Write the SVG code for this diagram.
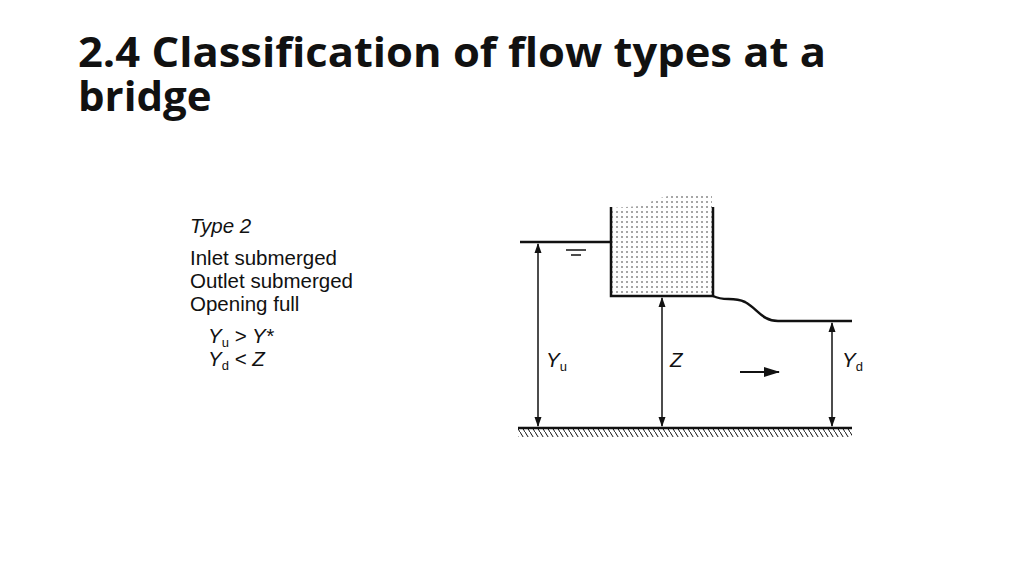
<svg xmlns="http://www.w3.org/2000/svg" width="1024" height="575" viewBox="0 0 1024 575">
<style>
.t{font-family:"Liberation Sans",Arial,sans-serif;font-size:20.5px;fill:#111}
.i{font-style:italic}
.s{font-style:normal;font-size:13px}
.ln{stroke:#111;stroke-width:2.5;fill:none}
.dim{stroke:#111;stroke-width:1.5;fill:none}
.h{font-family:'Open Sans','Noto Sans',sans-serif;font-weight:bold;font-size:42px;fill:#111}
</style>
<defs>
<pattern id="dots" width="5" height="5" patternUnits="userSpaceOnUse"><circle cx="2" cy="2" r="0.8" fill="#333"/></pattern>
<pattern id="hatch" width="5" height="8" patternUnits="userSpaceOnUse"><line x1="0" y1="0" x2="5" y2="8" stroke="#111" stroke-width="1"/></pattern>
<marker id="ah" markerWidth="10" markerHeight="10" refX="9" refY="5" orient="auto-start-reverse" markerUnits="userSpaceOnUse"><path d="M0,1.5 L10,5 L0,8.5 Z" fill="#111"/></marker>
<marker id="ah2" markerWidth="16" markerHeight="12" refX="15" refY="6" orient="auto" markerUnits="userSpaceOnUse"><path d="M0,1 L16,6 L0,11 Z" fill="#111"/></marker>
</defs>
<rect width="1024" height="575" fill="#fff"/>
<text class="h" x="78" y="67" textLength="748" lengthAdjust="spacingAndGlyphs">2.4 Classification of flow types at a</text>
<text class="h" x="78" y="111">bridge</text>
<g id="legend">
<text class="t i" x="190" y="233">Type 2</text>
<text class="t" x="190" y="265">Inlet submerged</text>
<text class="t" x="190" y="288">Outlet submerged</text>
<text class="t" x="190" y="311">Opening full</text>
<text class="t i" x="208" y="343">Y<tspan class="s" dy="4">u</tspan><tspan dy="-4"> &gt; Y*</tspan></text>
<text class="t i" x="208" y="366">Y<tspan class="s" dy="4">d</tspan><tspan dy="-4"> &lt; Z</tspan></text>
</g>
<g id="bridge">
<path d="M611,208 L640,206 L660,198 L680,193 L712,194 L712,296 L611,296 Z" fill="url(#dots)"/>
<path class="ln" d="M611,207 V296 H713 V207"/>
</g>
<g id="water">
<line class="ln" x1="520" y1="242" x2="611" y2="242"/>
<line class="dim" x1="566" y1="250" x2="586" y2="250"/>
<line class="dim" x1="571" y1="255" x2="581" y2="255"/>
<path class="ln" d="M713,296 C725,302 732,296 745,302 C758,309 762,321 778,321 H852"/>
</g>
<g id="ground">
<rect x="518" y="429" width="334" height="8" fill="url(#hatch)"/>
<line class="ln" x1="518" y1="428" x2="852" y2="428"/>
</g>
<g id="connectors">
<line class="dim" x1="538" y1="244" x2="538" y2="426" marker-start="url(#ah)" marker-end="url(#ah)"/>
<line class="dim" x1="662" y1="298" x2="662" y2="426" marker-start="url(#ah)" marker-end="url(#ah)"/>
<line class="dim" x1="832" y1="323" x2="832" y2="426" marker-start="url(#ah)" marker-end="url(#ah)"/>
<line x1="740" y1="372" x2="779" y2="372" stroke="#111" stroke-width="2" marker-end="url(#ah2)"/>
</g>
<g id="labels">
<text class="t i" x="546" y="367" font-size="22">Y<tspan class="s" dy="4">u</tspan></text>
<text class="t i" x="670" y="367" font-size="22">Z</text>
<text class="t i" x="842" y="367" font-size="22">Y<tspan class="s" dy="4">d</tspan></text>
</g>
</svg>
